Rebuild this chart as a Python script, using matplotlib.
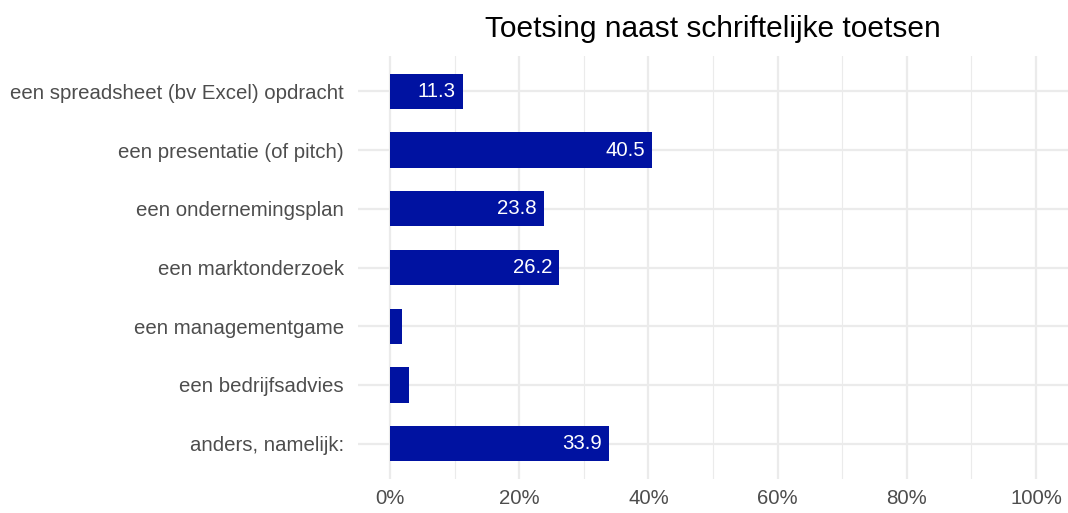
import matplotlib
matplotlib.use("Agg")
import matplotlib.pyplot as plt
import numpy as np

plt.rcParams['font.family'] = ['Liberation Sans', 'DejaVu Sans']

# data (bottom to top)
categories = ['anders, namelijk:', 'een bedrijfsadvies', 'een managementgame',
              'een marktonderzoek', 'een ondernemingsplan',
              'een presentatie (of pitch)', 'een spreadsheet (bv Excel) opdracht']
values = [33.9, 3.0, 1.8, 26.2, 23.8, 40.5, 11.3]
x_ticks = [0, 20, 40, 60, 80, 100]
x_labels = ['0%', '20%', '40%', '60%', '80%', '100%']
title = 'Toetsing naast schriftelijke toetsen'

bar_color = '#0012A1'
grid_color = '#EBEBEB'
text_color = '#4D4D4D'

fig = plt.figure(figsize=(10.68, 5.13), dpi=100)
ax = fig.add_axes([358 / 1068, 1 - 479 / 513, 710 / 1068, (479 - 56) / 513])

y = np.arange(len(categories))
ax.barh(y, values, height=0.6, color=bar_color, zorder=3)

# value labels inside the bars (only the wide ones)
for yi, v in zip(y, values):
    if v > 5:
        ax.annotate(f'{v:.1f}', xy=(v, yi), xytext=(-5, 0), textcoords='offset points',
                    ha='right', va='center', color='white', fontsize=14.7, zorder=4)

ax.set_xlim(-4.94, 104.94)
ax.set_ylim(-0.6, len(categories) - 0.4)
ax.set_xticks(x_ticks)
ax.set_xticklabels(x_labels)
ax.set_xticks(np.arange(10, 100, 20), minor=True)
ax.set_yticks(y)
ax.set_yticklabels(categories)

ax.grid(which='major', color=grid_color, linewidth=1.6, zorder=0)
ax.grid(which='minor', axis='x', color=grid_color, linewidth=0.8, zorder=0)
ax.tick_params(which='both', length=0)
ax.tick_params(axis='y', pad=10, labelsize=14.7, labelcolor=text_color)
ax.tick_params(axis='x', pad=7, labelsize=14.7, labelcolor=text_color)
for s in ax.spines.values():
    s.set_visible(False)

ax.set_title(title, fontsize=21.5, color='black', pad=14)

fig.savefig('out.png', dpi=100)
